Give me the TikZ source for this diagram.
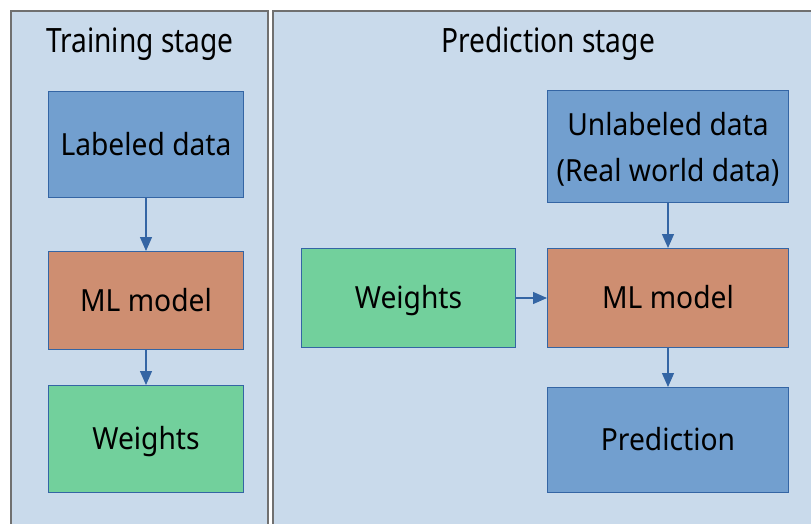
\documentclass[tikz,border=0pt]{standalone}
\usepackage{fontspec}
\setmainfont{Noto Sans}
\newfontfamily\titlefont[FakeStretch=0.84]{Noto Sans}
\newfontfamily\boxfont[FakeStretch=0.925]{Noto Sans}
\usetikzlibrary{arrows.meta}
\definecolor{panelfill}{HTML}{C9DAEB}
\definecolor{panelline}{HTML}{707070}
\definecolor{bluefill}{HTML}{729FCF}
\definecolor{blueline}{HTML}{3465A4}
\definecolor{orangefill}{HTML}{CE8E71}
\definecolor{greenfill}{HTML}{72D09C}
\tikzset{
  panel/.style={draw=panelline, fill=panelfill, line width=1.5pt},
  box/.style={draw=blueline, line width=1pt, anchor=north west, inner sep=0pt, font=\boxfont\fontsize{30.5}{45.5}\selectfont, align=center},
  oneline/.style={text height=21.7pt, text depth=0pt},
  datab/.style={box, fill=bluefill},
  modelb/.style={box, fill=orangefill},
  weightb/.style={box, fill=greenfill},
  conn/.style={draw=blueline, line width=1.3pt, -{Triangle[length=14pt,width=12pt]}},
  title/.style={font=\titlefont\fontsize{33.5}{40}\selectfont, anchor=base, inner sep=0pt}
}
\begin{document}
\begin{tikzpicture}[x=1pt,y=-1pt]
\useasboundingbox (0,0) rectangle (811,523);
\fill[white] (0,0) rectangle (811,523);
\draw[panel] (11,11) rectangle (268,540);
\draw[panel] (273,11) rectangle (830,540);
\node[title] (t1) at (140,52.3) {Training stage};
\node[title] (t2) at (548,52.3) {Prediction stage};
\node[datab, oneline, minimum width=195pt, minimum height=106pt] (ld) at (48,91) {Labeled data};
\node[modelb, oneline, minimum width=195pt, minimum height=98pt] (m1) at (48,251) {ML model};
\node[weightb, oneline, minimum width=195pt, minimum height=107pt] (w1) at (48,385) {Weights};
\node[datab, minimum width=241pt, minimum height=112pt] (ud) at (547,90) {\rule{0pt}{29pt}Unlabeled data\\(Real world data)};
\node[modelb, oneline, minimum width=241pt, minimum height=99pt] (m2) at (547,248) {ML model};
\node[datab, oneline, minimum width=241pt, minimum height=105pt] (pr) at (547,387) {Prediction};
\node[weightb, oneline, minimum width=214pt, minimum height=99pt] (w2) at (301,248) {Weights};
\draw[conn] (ld) -- (m1);
\draw[conn] (m1) -- (w1);
\draw[conn] (ud) -- (m2);
\draw[conn] (m2) -- (pr);
\draw[conn] (w2) -- (m2);
\end{tikzpicture}
\end{document}
